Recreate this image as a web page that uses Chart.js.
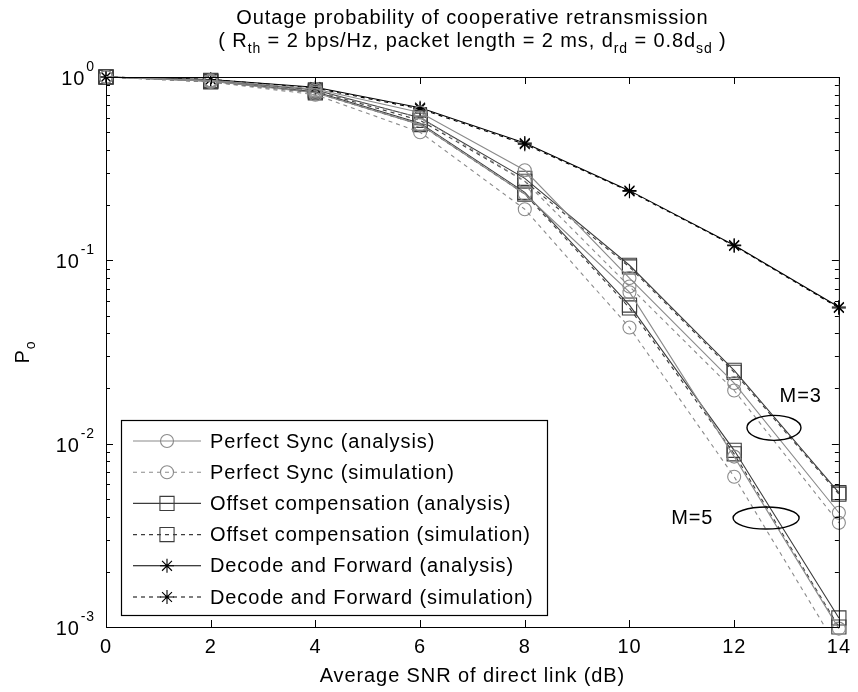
<!DOCTYPE html>
<html>
<head>
<meta charset="utf-8">
<script src="https://cdn.jsdelivr.net/npm/chart.js@4.4.1/dist/chart.umd.min.js"></script>
<style>
  html, body { margin: 0; padding: 0; background: #fff; }
</style>
</head>
<body>
<canvas id="outageChart" width="858" height="692"></canvas>
<script>
// x axis: average SNR of direct link (dB)
const snr = [0, 2, 4, 6, 8, 10, 12, 14];

// M = 3
const syncAnaM3 = [1.0, 0.96, 0.86, 0.64, 0.31, 0.080, 0.0214, 0.0042];
const syncSimM3 = [1.0, 0.95, 0.84, 0.60, 0.27, 0.072, 0.0195, 0.0037];
const compAnaM3 = [1.0, 0.96, 0.85, 0.60, 0.28, 0.094, 0.0251, 0.0054];
const compSimM3 = [1.0, 0.95, 0.84, 0.58, 0.27, 0.092, 0.0245, 0.0053];

// M = 5
const syncAnaM5 = [1.0, 0.95, 0.82, 0.55, 0.23, 0.067, 0.0085, 0.00098];
const syncSimM5 = [1.0, 0.94, 0.80, 0.50, 0.19, 0.043, 0.0066, 0.00075];
const compAnaM5 = [1.0, 0.95, 0.83, 0.56, 0.235, 0.057, 0.0092, 0.00112];
const compSimM5 = [1.0, 0.94, 0.82, 0.55, 0.23, 0.055, 0.0088, 0.00100];

// decode and forward (no M dependence)
const dfAna = [1.0, 0.97, 0.88, 0.68, 0.436, 0.24, 0.121, 0.0556];
const dfSim = [1.0, 0.97, 0.87, 0.67, 0.43, 0.238, 0.120, 0.0550];

const yTickExps = [0, -1, -2, -3];
const xTickValues = [0, 2, 4, 6, 8, 10, 12, 14];

const FONT = '"Liberation Sans", Arial, Helvetica, sans-serif';
const SPACING = '0.9px';
const GRAY = '#8a8a8a';
const DARK = '#3c3c3c';
const BLACK = '#000000';
const DASH = [4, 4];

const legendItems = [
    { text: 'Perfect Sync (analysis)', color: GRAY, dash: [], style: 'circle' },
    { text: 'Perfect Sync (simulation)', color: GRAY, dash: DASH, style: 'circle' },
    { text: 'Offset compensation (analysis)', color: DARK, dash: [], style: 'rect' },
    { text: 'Offset compensation (simulation)', color: DARK, dash: DASH, style: 'rect' },
    { text: 'Decode and Forward (analysis)', color: BLACK, dash: [], style: 'star' },
    { text: 'Decode and Forward (simulation)', color: BLACK, dash: DASH, style: 'star' }
];

// annotations: group ellipses in data coordinates
const groupNotes = [
    { label: 'M=3', labelX: 13.27, labelY: 0.018, cx: 12.76, cy: 0.0122, rx: 27, ry: 12.5 },
    { label: 'M=5', labelX: 11.2, labelY: 0.0039, cx: 12.61, cy: 0.00393, rx: 33, ry: 11 }
];

const markerRadius = { circle: 6.5, rect: 10, star: 7 };

function series(label, values, color, dash, style, bottomClip) {
    return {
        label: label,
        data: values.map((v, i) => ({ x: snr[i], y: v })),
        borderColor: color,
        backgroundColor: 'rgba(0,0,0,0)',
        borderWidth: 1.1,
        borderDash: dash,
        pointStyle: style,
        pointRadius: markerRadius[style],
        pointBorderWidth: 1.1,
        pointBorderColor: color,
        pointBackgroundColor: 'rgba(0,0,0,0)',
        tension: 0,
        clip: { left: 14, right: 14, top: 14, bottom: bottomClip }
    };
}

// marker for the legend samples, same shapes as the data points
function legendMarker(ctx, style, x, y, color) {
    ctx.save();
    ctx.setLineDash([]);
    ctx.strokeStyle = color;
    ctx.fillStyle = 'rgba(0,0,0,0)';
    ctx.lineWidth = 1.1;
    Chart.helpers.drawPoint(ctx, {
        pointStyle: style, rotation: 0, borderWidth: 1.1, radius: markerRadius[style]
    }, x, y);
    ctx.restore();
}

function textWithSub(ctx, parts, x, y, align) {
    // parts: [text, isSub]
    const big = `20px ${FONT}`;
    const small = `14px ${FONT}`;
    let total = 0;
    parts.forEach(p => {
        ctx.font = p[1] ? small : big;
        total += ctx.measureText(p[0]).width;
    });
    let cx = align === 'center' ? x - total / 2 : x;
    ctx.textAlign = 'left';
    ctx.textBaseline = 'alphabetic';
    parts.forEach(p => {
        ctx.font = p[1] ? small : big;
        ctx.fillText(p[0], cx, p[1] ? y + 6 : y);
        cx += ctx.measureText(p[0]).width;
    });
}

const matlabFrame = {
    id: 'matlabFrame',
    beforeDraw(chart) {
        chart.ctx.letterSpacing = SPACING;
    },
    afterDatasetsDraw(chart) {
        const { ctx, scales: { x, y } } = chart;
        ctx.save();
        ctx.strokeStyle = '#000';
        ctx.fillStyle = '#000';
        ctx.lineWidth = 1.4;
        groupNotes.forEach(n => {
            const cx = x.getPixelForValue(n.cx);
            const cy = y.getPixelForValue(n.cy);
            ctx.beginPath();
            ctx.ellipse(cx, cy, n.rx, n.ry, 0, 0, Math.PI * 2);
            ctx.stroke();
            ctx.font = `20px ${FONT}`;
            ctx.textAlign = 'center';
            ctx.textBaseline = 'middle';
            ctx.fillText(n.label, x.getPixelForValue(n.labelX), y.getPixelForValue(n.labelY));
        });
        ctx.restore();
    },
    afterDraw(chart) {
        const { ctx, chartArea: a, scales: { x, y } } = chart;
        ctx.save();
        ctx.strokeStyle = '#000';
        ctx.fillStyle = '#000';
        ctx.lineWidth = 1;

        // box
        ctx.strokeRect(a.left + 0.5, a.top + 0.5, a.right - a.left, a.bottom - a.top);

        // x ticks, inward on bottom and top
        ctx.beginPath();
        xTickValues.forEach(v => {
            const px = Math.round(x.getPixelForValue(v)) + 0.5;
            ctx.moveTo(px, a.bottom); ctx.lineTo(px, a.bottom - 7);
            ctx.moveTo(px, a.top); ctx.lineTo(px, a.top + 7);
        });
        // y ticks, major and minor, inward on left and right
        yTickExps.forEach(e => {
            for (let m = 1; m <= 9; m++) {
                const val = m * Math.pow(10, e);
                if (val > 1 || val < 0.001) continue;
                const py = Math.round(y.getPixelForValue(val)) + 0.5;
                const len = m === 1 ? 7 : 4;
                ctx.moveTo(a.left, py); ctx.lineTo(a.left + len, py);
                ctx.moveTo(a.right, py); ctx.lineTo(a.right - len, py);
            }
        });
        ctx.stroke();

        // y tick labels 10^n
        yTickExps.forEach(e => {
            const py = y.getPixelForValue(Math.pow(10, e));
            const expStr = String(e);
            ctx.font = `14px ${FONT}`;
            const ew = ctx.measureText(expStr).width;
            ctx.textAlign = 'left';
            ctx.textBaseline = 'alphabetic';
            const expX = a.left - 11 - ew;
            ctx.fillText(expStr, expX, py - 6);
            ctx.font = `20px ${FONT}`;
            ctx.textAlign = 'right';
            ctx.fillText('10', expX - 1, py + 8);
        });

        // y axis title P_o
        ctx.save();
        ctx.translate(29, (a.top + a.bottom) / 2);
        ctx.rotate(-Math.PI / 2);
        textWithSub(ctx, [['P', false], ['o', true]], 0, 0, 'center');
        ctx.restore();

        // title
        ctx.font = `20px ${FONT}`;
        ctx.textAlign = 'center';
        ctx.textBaseline = 'alphabetic';
        const midX = (a.left + a.right) / 2;
        ctx.fillText('Outage probability of cooperative retransmission', midX, 24);
        textWithSub(ctx, [
            ['( R', false], ['th', true], [' = 2 bps/Hz, packet length = 2 ms, d', false],
            ['rd', true], [' = 0.8d', false], ['sd', true], [' )', false]
        ], midX, 47, 'center');

        // legend
        const box = { left: 121, top: 420, right: 547, bottom: 615 };
        ctx.fillStyle = '#fff';
        ctx.fillRect(box.left, box.top, box.right - box.left, box.bottom - box.top);
        ctx.strokeStyle = '#000';
        ctx.lineWidth = 1.2;
        ctx.strokeRect(box.left + 0.5, box.top + 0.5, box.right - box.left, box.bottom - box.top);
        legendItems.forEach((item, i) => {
            const ly = 441 + i * 31.2;
            ctx.save();
            ctx.strokeStyle = item.color;
            ctx.lineWidth = 1.1;
            ctx.setLineDash(item.dash);
            ctx.beginPath();
            ctx.moveTo(133, ly); ctx.lineTo(201, ly);
            ctx.stroke();
            ctx.restore();
            legendMarker(ctx, item.style, 167, ly, item.color);
            ctx.fillStyle = '#000';
            ctx.font = `20px ${FONT}`;
            ctx.textAlign = 'left';
            ctx.textBaseline = 'middle';
            ctx.fillText(item.text, 210, ly + 1);
        });
        ctx.restore();
    }
};

Chart.defaults.font.family = FONT;
Chart.defaults.color = '#000';

new Chart(document.getElementById('outageChart').getContext('2d'), {
    type: 'line',
    data: {
        datasets: [
            series('Perfect Sync (analysis) M=3', syncAnaM3, GRAY, [], 'circle', 14),
            series('Perfect Sync (simulation) M=3', syncSimM3, GRAY, DASH, 'circle', 14),
            series('Perfect Sync (analysis) M=5', syncAnaM5, GRAY, [], 'circle', 14),
            series('Perfect Sync (simulation) M=5', syncSimM5, GRAY, DASH, 'circle', 0),
            series('Offset compensation (analysis) M=3', compAnaM3, DARK, [], 'rect', 14),
            series('Offset compensation (simulation) M=3', compSimM3, DARK, DASH, 'rect', 14),
            series('Offset compensation (analysis) M=5', compAnaM5, DARK, [], 'rect', 14),
            series('Offset compensation (simulation) M=5', compSimM5, DARK, DASH, 'rect', 14),
            series('Decode and Forward (analysis)', dfAna, BLACK, [], 'star', 14),
            series('Decode and Forward (simulation)', dfSim, BLACK, DASH, 'star', 14)
        ]
    },
    options: {
        responsive: false,
        animation: false,
        devicePixelRatio: 1,
        layout: { padding: { left: 106, right: 8, top: 77, bottom: 0 } },
        plugins: {
            legend: { display: false },
            tooltip: { enabled: false }
        },
        scales: {
            x: {
                type: 'linear',
                min: 0,
                max: 14,
                grid: { display: false, drawTicks: false },
                border: { display: false },
                ticks: {
                    stepSize: 2,
                    padding: 8,
                    font: { size: 20, family: FONT },
                    color: '#000',
                    maxRotation: 0
                },
                title: {
                    display: true,
                    text: 'Average SNR of direct link (dB)',
                    font: { size: 20, family: FONT },
                    color: '#000',
                    padding: { top: 0, bottom: 4 }
                },
                afterFit: s => { s.height = 65; }
            },
            y: {
                type: 'logarithmic',
                min: 0.001,
                max: 1,
                grid: { display: false, drawTicks: false },
                border: { display: false },
                ticks: { display: false },
                afterFit: s => { s.width = 0; }
            }
        }
    },
    plugins: [matlabFrame]
});
</script>
</body>
</html>
